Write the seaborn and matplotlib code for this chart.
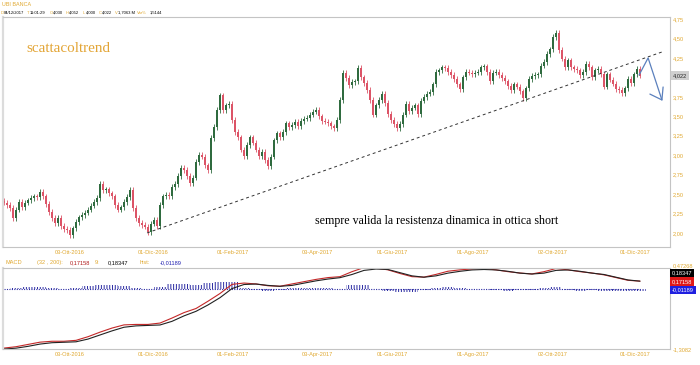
import numpy as np
import pandas as pd
import seaborn as sns
import matplotlib.pyplot as plt
import matplotlib.transforms as mtransforms

# daily closes (one candle per slot)
closes = [2.39, 2.36, 2.32, 2.19, 2.30, 2.40, 2.33, 2.39, 2.42, 2.45,
          2.47, 2.46, 2.53, 2.47, 2.37, 2.27, 2.19, 2.13, 2.19, 2.09,
          2.05, 2.04, 1.97, 2.06, 2.14, 2.20, 2.23, 2.26, 2.30, 2.35,
          2.40, 2.45, 2.63, 2.55, 2.56, 2.51, 2.47, 2.36, 2.30, 2.33,
          2.40, 2.46, 2.55, 2.32, 2.19, 2.13, 2.10, 2.08, 2.01, 2.12,
          2.17, 2.09, 2.36, 2.47, 2.49, 2.47, 2.59, 2.63, 2.73, 2.84,
          2.81, 2.73, 2.64, 2.71, 2.91, 3.00, 2.98, 2.87, 2.81, 3.22,
          3.36, 3.58, 3.77, 3.58, 3.64, 3.66, 3.45, 3.30, 3.23, 3.07,
          2.99, 3.13, 3.23, 3.16, 3.07, 2.99, 3.04, 2.94, 2.86, 2.98,
          3.19, 3.28, 3.23, 3.30, 3.41, 3.36, 3.39, 3.43, 3.37, 3.44,
          3.47, 3.48, 3.52, 3.56, 3.58, 3.50, 3.44, 3.43, 3.41, 3.37,
          3.35, 3.45, 3.71, 4.06, 3.99, 3.90, 3.94, 3.95, 4.12, 4.00,
          3.93, 3.84, 3.71, 3.52, 3.64, 3.71, 3.79, 3.67, 3.53, 3.45,
          3.40, 3.35, 3.40, 3.52, 3.66, 3.57, 3.61, 3.64, 3.53, 3.70,
          3.75, 3.79, 3.81, 3.91, 4.07, 4.09, 4.13, 4.12, 4.07, 4.03,
          3.98, 3.91, 3.85, 4.00, 4.07, 4.06, 4.04, 4.06, 4.07, 4.13,
          4.14, 4.07, 3.95, 4.06, 4.07, 4.03, 3.99, 3.95, 3.89, 3.84,
          3.91, 3.88, 3.82, 3.73, 3.86, 3.98, 4.02, 4.03, 4.04, 4.15,
          4.20, 4.30, 4.36, 4.52, 4.57, 4.35, 4.24, 4.13, 4.22, 4.13,
          4.11, 4.09, 4.03, 4.07, 4.17, 4.13, 4.00, 4.09, 4.11, 4.04,
          3.88, 4.04, 3.97, 3.92, 3.85, 3.84, 3.80, 3.86, 3.98, 3.93,
          4.04, 4.11, 4.022]
first_open = 2.41

# MACD every 4 candles
macd_step = 4
macd = [-1.30, -1.27, -1.22, -1.17, -1.15, -1.15, -1.13, -1.05, -0.95, -0.86,
        -0.79, -0.78, -0.78, -0.75, -0.64, -0.52, -0.43, -0.27, -0.10, 0.10,
        0.13, 0.11, 0.07, 0.06, 0.11, 0.16, 0.21, 0.25, 0.27, 0.38,
        0.47, 0.46, 0.42, 0.34, 0.27, 0.26, 0.32, 0.39, 0.42, 0.44,
        0.45, 0.42, 0.38, 0.35, 0.33, 0.38, 0.45, 0.42, 0.38, 0.35,
        0.31, 0.25, 0.19, 0.17158]
signal = [-1.31, -1.29, -1.25, -1.20, -1.17, -1.16, -1.15, -1.09, -1.00, -0.91,
          -0.83, -0.80, -0.79, -0.78, -0.70, -0.58, -0.48, -0.34, -0.18, 0.02,
          0.11, 0.12, 0.09, 0.07, 0.09, 0.14, 0.19, 0.23, 0.26, 0.33,
          0.42, 0.45, 0.44, 0.37, 0.30, 0.27, 0.30, 0.36, 0.40, 0.43,
          0.44, 0.43, 0.40, 0.36, 0.34, 0.36, 0.42, 0.43, 0.40, 0.36,
          0.33, 0.27, 0.21, 0.18347]

tick_pos = [22, 49.7, 76.3, 104.3, 129.3, 156.3, 183, 210.3]
tick_labels = ["03-Ott-2016", "01-Dic-2016", "01-Feb-2017", "03-Apr-2017",
               "01-Giu-2017", "01-Ago-2017", "02-Ott-2017", "01-Dic-2017"]
price_ticks = [2.00, 2.25, 2.50, 2.75, 3.00, 3.25, 3.50, 3.75, 4.00, 4.25, 4.50, 4.75]
price_labels = ["2,00", "2,25", "2,50", "2,75", "3,00", "3,25", "3,50", "3,75", "", "4,25", "4,50", "4,75"]
macd_top, macd_bottom = 0.47268, -1.3082

trend_x = [47.7, 219.3]
trend_y = [2.00, 4.326]
arrow_x = [211.7, 214.7, 219.3]
arrow_y = [4.03, 4.25, 3.71]
head_x = [215.3, 219.3, 219.7]
head_y = [3.785, 3.71, 3.876]

ORANGE = "#e0a830"
UP = "#2f6b3f"
DOWN = "#dc5467"
GRID = "#c4c4c4"
HIST = "#2b2ba3"

sns.set_style("white")
plt.rcParams["font.family"] = ["Liberation Sans", "DejaVu Sans"]
plt.rcParams["hatch.linewidth"] = 0.7

df = pd.DataFrame({"close": closes})
df["open"] = df["close"].shift(1).fillna(first_open)
df["idx"] = np.arange(len(df))
df["up"] = df["close"] >= df["open"]
df["top"] = df[["open", "close"]].max(axis=1)
df["bot"] = df[["open", "close"]].min(axis=1)
colors = np.where(df["up"], UP, DOWN)

fig = plt.figure(figsize=(7, 3.65), dpi=100)
W, H = 700, 365


def px_axes(x0, y0, x1, y1):
    return fig.add_axes([x0 / W, 1 - y1 / H, (x1 - x0) / W, (y1 - y0) / H])


ax = px_axes(3, 17, 670, 247)
ax2 = px_axes(3, 268, 670, 349)

# candles
wick = 0.035
ax.vlines(df["idx"], df["bot"] - wick, df["top"] + wick, colors=colors, lw=0.6)
ax.bar(df["idx"], np.maximum(df["top"] - df["bot"], 0.012), bottom=df["bot"],
       width=0.65, color=colors, linewidth=0)

ax.plot(trend_x, trend_y, ls=(0, (3, 3)), color="#333333", lw=0.7)
ax.plot(arrow_x, arrow_y, color="#5b80bd", lw=0.9)
ax.plot(head_x, head_y, color="#5b80bd", lw=0.9)

ax.set_xlim(-0.33, 222)
ax.set_ylim(1.819, 4.776)
ax.yaxis.tick_right()
ax.set_yticks(price_ticks)
ax.set_yticklabels(price_labels)
ax.set_xticks(tick_pos)
ax.set_xticklabels(tick_labels)

trans = mtransforms.blended_transform_factory(ax.transAxes, ax.transData)
ax.text(1.004, closes[-1], "4,022", transform=trans, fontsize=4.1, va="center", ha="left",
        bbox=dict(boxstyle="square,pad=0.35", fc="#cfcfcf", ec="none"))

# MACD panel (histogram drawn at double scale, as the platform does)
midx = np.arange(len(macd)) * macd_step
hist = np.array(macd) - np.array(signal)
ax2.bar(midx, hist * 2, width=macd_step, fill=False, hatch="||||||", edgecolor=HIST, linewidth=0)
ax2.plot([0, midx[-1]], [0, 0], ls=(0, (1, 1.2)), color=HIST, lw=0.8)
sns.lineplot(x=midx, y=np.array(macd) + 0.012, color="#c42828", lw=0.8, ax=ax2)
sns.lineplot(x=midx, y=signal, color="#222222", lw=0.8, ax=ax2)
ax2.set_xlim(-0.33, 222)
ax2.set_ylim(macd_bottom, macd_top)
ax2.yaxis.tick_right()
ax2.set_yticks([macd_bottom])
ax2.set_yticklabels(["-1,3082"])
ax2.set_xticks(tick_pos)
ax2.set_xticklabels(tick_labels)

for a in (ax, ax2):
    a.tick_params(length=0, labelsize=4.1, labelcolor=ORANGE, pad=2)
    a.set_xlabel("")
    a.set_ylabel("")
    for s in a.spines.values():
        s.set_color(GRID)
        s.set_linewidth(0.8)
    a.spines["left"].set_linewidth(1.6)
    a.spines["left"].set_color("#dcdcdc")

fig.text(673 / W, 1 - 266 / H, "0,47268", fontsize=4.1, color=ORANGE, va="center", ha="left")

# value boxes on the MACD scale
for ytxt, txt, bg in [(273, "0,18347", "#000000"), (281.5, "0,17158", "#e01818"), (290, "-0,01189", "#1f1fe0")]:
    fig.text(672 / W, 1 - ytxt / H, txt, fontsize=4.1, color="white", va="center", ha="left",
             bbox=dict(boxstyle="square,pad=0.3", fc=bg, ec="none"))


def place_text(y, parts, size):
    for x, s, c in parts:
        fig.text(x / W, 1 - y / H, s, color=c, fontsize=size, va="center", ha="left")


fig.text(2 / W, 1 - 4.5 / H, "UBI BANCA", color=ORANGE, fontsize=3.9, va="center")
place_text(13, [(1, "D", ORANGE), (3.5, "04/12/2017", "black"), (27, "T", ORANGE), (29.5, "11:01:29", "black"),
                (50, "O", ORANGE), (53, "4,030", "black"), (66, "H", ORANGE), (69, "4,052", "black"),
                (83, "L", ORANGE), (86, "4,000", "black"), (99, "C", ORANGE), (102, "4,022", "black"),
                (115, "V", ORANGE), (118, "1,7063 M", "black"), (137, "Var%", ORANGE), (150, "1,5144", "black")], 3.0)
place_text(262.5, [(5, "MACD", ORANGE), (37, "(32 , 200):", ORANGE), (70, "0,17158", "#b01818"),
                   (95, "9:", ORANGE), (108, "0,18347", "black"), (140, "hist:", ORANGE),
                   (160, "-0,01189", "#1f1fb0")], 4.1)

fig.text(26 / W, 1 - 48 / H, "scattacoltrend", family="Liberation Serif", fontsize=10.9,
         color="#e3a536", va="center", ha="left")
fig.text(315 / W, 1 - 221 / H, "sempre valida la resistenza dinamica in ottica short",
         family="Liberation Serif", fontsize=8.6, color="black", va="center", ha="left")

fig.savefig("out.png", dpi=100)
